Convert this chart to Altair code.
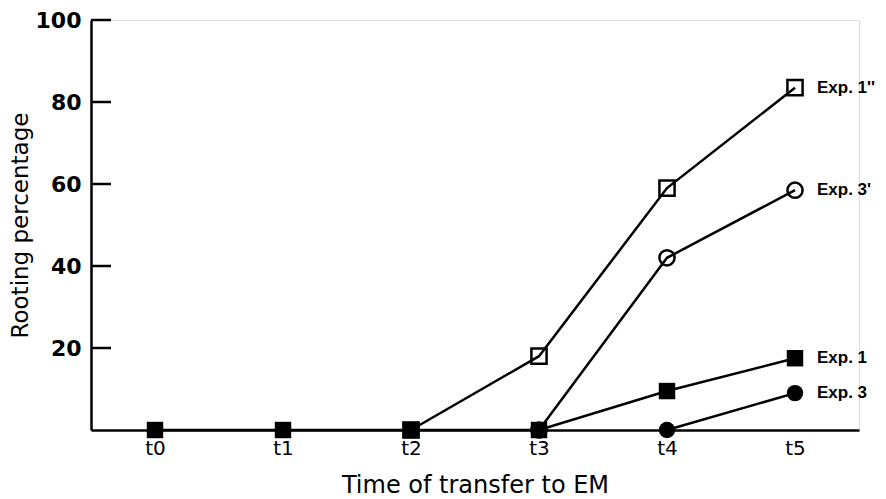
import altair as alt
import pandas as pd

# ---- data ----
times = ["t0", "t1", "t2", "t3", "t4", "t5"]

series_names = ["Exp. 1''", "Exp. 3'", "Exp. 1", "Exp. 3"]
series_times = [
    ["t2", "t3", "t4", "t5"],
    ["t3", "t4", "t5"],
    ["t0", "t1", "t2", "t3", "t4", "t5"],
    ["t4", "t5"],
]
series_values = [
    [0, 18, 59, 83.5],
    [0, 42, 58.5],
    [0, 0, 0, 0, 9.5, 17.5],
    [0, 9],
]
series_shapes = ["square", "circle", "square", "circle"]
series_filled = [False, False, True, True]

y_ticks = [20, 40, 60, 80, 100]

# ---- tables ----
rows = []
for name, ts, vs, sh, fl in zip(series_names, series_times, series_values,
                                series_shapes, series_filled):
    for t, v in zip(ts, vs):
        rows.append({"series": name, "t": t, "v": v, "shape": sh,
                     "filled": "yes" if fl else "no"})
df = pd.DataFrame(rows)

label_df = pd.DataFrame({
    "series": series_names,
    "t": [ts[-1] for ts in series_times],
    "v": [vs[-1] for vs in series_values],
})
tick_df = pd.DataFrame({"v": y_ticks})

FONT = "DejaVu Sans"

x_enc = alt.X(
    "t:N",
    scale=alt.Scale(type="point", domain=times, padding=0.5),
    axis=alt.Axis(
        title="Time of transfer to EM",
        ticks=False,
        labelAngle=0,
        labelFont=FONT,
        labelFontSize=20,
        labelColor="black",
        labelPadding=8,
        titleFont=FONT,
        titleFontSize=24,
        titleFontWeight="normal",
        titleColor="black",
        titlePadding=15,
        domainColor="black",
        domainWidth=2.5,
        grid=False,
    ),
)
y_enc = alt.Y(
    "v:Q",
    scale=alt.Scale(domain=[0, 100], nice=False),
    axis=alt.Axis(
        title="Rooting percentage",
        values=y_ticks,
        ticks=False,
        labelFont=FONT,
        labelFontSize=22,
        labelFontWeight="bold",
        labelColor="black",
        labelPadding=10,
        titleFont=FONT,
        titleFontSize=23,
        titleFontWeight="normal",
        titleColor="black",
        titlePadding=3,
        domainColor="black",
        domainWidth=2.5,
        grid=False,
    ),
)

base = alt.Chart(df).encode(x=x_enc, y=y_enc)

lines = base.mark_line(color="black", strokeWidth=2.5).encode(
    detail="series:N"
)

open_pts = base.transform_filter(alt.datum.filled == "no").mark_point(
    filled=False, color="black", strokeWidth=2.5, opacity=1
).encode(
    shape=alt.Shape("shape:N", scale=None),
    size=alt.value(230),
)

filled_pts = base.transform_filter(alt.datum.filled == "yes").mark_point(
    filled=True, color="black", opacity=1
).encode(
    shape=alt.Shape("shape:N", scale=None),
    size=alt.value(270),
)

labels = alt.Chart(label_df).mark_text(
    align="left", baseline="middle", dx=22, font="Liberation Sans",
    fontWeight="bold", fontSize=17, color="black"
).encode(
    x=alt.X("t:N"),
    y=alt.Y("v:Q"),
    text="series:N",
)

tick_rules = alt.Chart(tick_df).mark_rule(color="black", strokeWidth=2.5).encode(
    y=alt.Y("v:Q"),
    x=alt.value(0),
    x2=alt.value(20),
)

chart = alt.layer(lines, tick_rules, open_pts, filled_pts, labels).properties(
    width=768,
    height=410,
    autosize=alt.AutoSizeParams(type="none"),
    padding={"left": 83, "top": 12, "right": 19, "bottom": 68},
).configure_view(stroke=None).configure(background="white")

chart.save("out.html", embed_options={"renderer": "svg", "actions": False})
